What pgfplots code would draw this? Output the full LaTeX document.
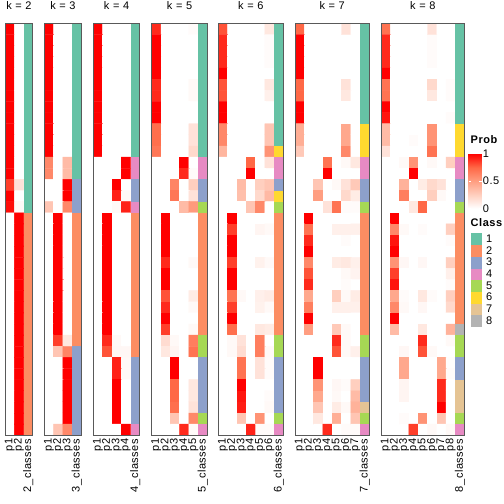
\documentclass[border=0pt]{standalone}
\usepackage{pgfplots}
\pgfplotsset{compat=1.18}
\usepackage{fontspec}
\setmainfont{Liberation Sans}[LetterSpace=5]
\definecolor{c1}{HTML}{66C2A5}
\definecolor{c2}{HTML}{FC8D62}
\definecolor{c3}{HTML}{8DA0CB}
\definecolor{c4}{HTML}{E78AC3}
\definecolor{c5}{HTML}{A6D854}
\definecolor{c6}{HTML}{FFD92F}
\definecolor{c7}{HTML}{E5C494}
\definecolor{c8}{HTML}{B3B3B3}
\newcommand{\lab}{\fontsize{11}{12}\selectfont}
\newcommand{\cls}[5]{\addplot[fill=#1,draw=none,forget plot] coordinates {(#2,#4) (#3,#4) (#3,#5) (#2,#5)};}
\pgfplotsset{
 colormap={whitered}{rgb255=(255,255,255) rgb255=(255,207,191) rgb255=(255,158,129) rgb255=(255,104,70) rgb255=(255,0,0)},
 panel/.style={
  scale only axis, height=411.7pt, width=#1, anchor=south west,
  ymin=-0.5, ymax=36.5, y dir=reverse, xmin=0.5,
  axis line style={draw=black!65, line width=0.9pt},
  ytick=\empty, major tick length=0pt,
  xticklabel style={rotate=90, anchor=east, font=\lab},
  title style={at={(0.5,1)}, anchor=south, yshift=4.5pt, font=\lab},
  colormap name=whitered, point meta min=0, point meta max=1,
  axis on top,
 },
 heat/.style={matrix plot*, mesh/cols=#1, mesh/rows=37, mesh/ordering=x varies, point meta=explicit, forget plot},
}
\begin{document}
\begin{tikzpicture}
\useasboundingbox (0,0) rectangle (504pt,504pt);
% ---------------- k = 2
\begin{axis}[panel=27.9pt, at={(5pt,68.7pt)}, xmax=3.5, xtick={1,2,3}, xticklabels={p1,p2,2\_classes}, title={k = 2}]
\addplot[heat=2] table[header=false, row sep=\\, empty line=none, meta index=0, x expr={\coordindex-2*floor((\coordindex+0.5)/2)+1}, y expr={floor((\coordindex+0.5)/2)}] {
1\\0\\
1\\0\\
1\\0\\
1\\0\\
1\\0\\
1\\0\\
1\\0\\
1\\0\\
1\\0\\
1\\0\\
1\\0\\
1\\0\\
1\\0\\
1\\0\\
0.85\\0.15\\
1\\0\\
0.97\\0.03\\
0\\1\\
0\\1\\
0\\1\\
0\\1\\
0\\1\\
0\\1\\
0\\1\\
0\\1\\
0\\1\\
0\\1\\
0\\1\\
0\\1\\
0\\1\\
0\\1\\
0\\1\\
0\\1\\
0\\1\\
0\\1\\
0\\1\\
0\\1\\
};
\cls{c1}{2.5}{3.5}{-0.5}{16.5}
\cls{c2}{2.5}{3.5}{16.5}{36.5}
\end{axis}
% ---------------- k = 3
\begin{axis}[panel=37.2pt, at={(44.3pt,68.7pt)}, xmax=4.5, xtick={1,2,3,4}, xticklabels={p1,p2,p3,3\_classes}, title={k = 3}]
\addplot[heat=3] table[header=false, row sep=\\, empty line=none, meta index=0, x expr={\coordindex-3*floor((\coordindex+0.5)/3)+1}, y expr={floor((\coordindex+0.5)/3)}] {
1\\0\\0\\
1\\0\\0\\
1\\0\\0\\
1\\0\\0\\
1\\0\\0\\
1\\0\\0\\
1\\0\\0\\
1\\0\\0\\
1\\0\\0\\
1\\0\\0\\
1\\0\\0\\
1\\0\\0\\
0.6\\0\\0.35\\
0.6\\0\\0.35\\
0\\0\\1\\
0\\0\\1\\
0.3\\0\\0.6\\
0\\1\\0\\
0\\1\\0\\
0\\1\\0\\
0\\1\\0\\
0\\1\\0\\
0\\1\\0\\
0\\1\\0\\
0\\1\\0\\
0\\1\\0\\
0\\1\\0\\
0\\1\\0\\
0\\0.85\\0.12\\
0\\0.3\\0.62\\
0\\0\\1\\
0\\0\\1\\
0\\0\\1\\
0\\0\\1\\
0\\0\\1\\
0\\0\\1\\
0\\0.3\\0.6\\
};
\cls{c1}{3.5}{4.5}{-0.5}{13.5}
\cls{c3}{3.5}{4.5}{13.5}{16.5}
\cls{c2}{3.5}{4.5}{16.5}{28.5}
\cls{c3}{3.5}{4.5}{28.5}{36.5}
\end{axis}
% ---------------- k = 4
\begin{axis}[panel=46.5pt, at={(93.3pt,68.7pt)}, xmax=5.5, xtick={1,...,5}, xticklabels={p1,p2,p3,p4,4\_classes}, title={k = 4}]
\addplot[heat=4] table[header=false, row sep=\\, empty line=none, meta index=0, x expr={\coordindex-4*floor((\coordindex+0.5)/4)+1}, y expr={floor((\coordindex+0.5)/4)}] {
1\\0\\0\\0\\
1\\0\\0\\0\\
1\\0\\0\\0\\
1\\0\\0\\0\\
1\\0\\0\\0\\
1\\0\\0\\0\\
1\\0\\0\\0\\
1\\0\\0\\0\\
1\\0\\0\\0\\
1\\0\\0\\0\\
1\\0\\0\\0\\
1\\0\\0\\0\\
0\\0\\0\\1\\
0\\0\\0\\1\\
0\\0\\1\\0\\
0\\0\\0.92\\0.03\\
0\\0\\0.03\\0.92\\
0\\1\\0\\0\\
0\\1\\0\\0\\
0\\1\\0\\0\\
0\\1\\0\\0\\
0\\1\\0\\0\\
0\\1\\0\\0\\
0\\1\\0\\0\\
0\\1\\0\\0\\
0\\1\\0\\0\\
0\\1\\0\\0\\
0\\1\\0\\0\\
0\\0.9\\0.03\\0\\
0\\0.8\\0.04\\0.04\\
0\\0\\0.92\\0.03\\
0\\0\\0.92\\0.03\\
0\\0\\1\\0\\
0\\0\\1\\0\\
0\\0\\1\\0\\
0\\0\\1\\0\\
0\\0\\0\\1\\
};
\cls{c1}{4.5}{5.5}{-0.5}{11.5}
\cls{c4}{4.5}{5.5}{11.5}{13.5}
\cls{c3}{4.5}{5.5}{13.5}{15.5}
\cls{c4}{4.5}{5.5}{15.5}{16.5}
\cls{c2}{4.5}{5.5}{16.5}{29.5}
\cls{c3}{4.5}{5.5}{29.5}{35.5}
\cls{c4}{4.5}{5.5}{35.5}{36.5}
\end{axis}
% ---------------- k = 5
\begin{axis}[panel=55.8pt, at={(151.7pt,68.7pt)}, xmax=6.5, xtick={1,...,6}, xticklabels={p1,p2,p3,p4,p5,5\_classes}, title={k = 5}]
\addplot[heat=5] table[header=false, row sep=\\, empty line=none, meta index=0, x expr={\coordindex-5*floor((\coordindex+0.5)/5)+1}, y expr={floor((\coordindex+0.5)/5)}] {
0.9\\0\\0\\0\\0.02\\
1\\0\\0\\0\\0\\
1\\0\\0\\0\\0\\
1\\0\\0\\0\\0\\
1\\0\\0\\0\\0\\
0.9\\0\\0\\0\\0.03\\
0.9\\0\\0\\0\\0.03\\
1\\0\\0\\0\\0\\
1\\0\\0\\0\\0\\
0.72\\0\\0\\0\\0.15\\
0.72\\0\\0\\0\\0.15\\
0.68\\0\\0\\0\\0.2\\
0\\0\\0\\1\\0\\
0\\0\\0\\0.9\\0.02\\
0\\0\\0.62\\0\\0.25\\
0\\0\\0.68\\0\\0.15\\
0\\0\\0\\0.35\\0.52\\
0\\1\\0\\0\\0\\
0\\1\\0\\0\\0\\
0\\1\\0\\0\\0\\
0\\1\\0\\0\\0\\
0\\0.9\\0\\0\\0.03\\
0\\1\\0\\0\\0\\
0\\1\\0\\0\\0\\
0\\0.8\\0\\0\\0.1\\
0\\0.9\\0\\0\\0.03\\
0\\1\\0\\0\\0\\
0\\0.85\\0\\0\\0.03\\
0\\0.18\\0.03\\0\\0.65\\
0\\0.12\\0.05\\0\\0.7\\
0\\0\\1\\0\\0\\
0\\0\\1\\0\\0\\
0\\0\\0.75\\0\\0.12\\
0\\0\\0.75\\0\\0.12\\
0\\0\\0.72\\0\\0.15\\
0\\0\\0.3\\0\\0.6\\
0\\0\\0\\0.9\\0.02\\
};
\cls{c1}{5.5}{6.5}{-0.5}{11.5}
\cls{c4}{5.5}{6.5}{11.5}{13.5}
\cls{c3}{5.5}{6.5}{13.5}{15.5}
\cls{c5}{5.5}{6.5}{15.5}{16.5}
\cls{c2}{5.5}{6.5}{16.5}{27.5}
\cls{c5}{5.5}{6.5}{27.5}{29.5}
\cls{c3}{5.5}{6.5}{29.5}{34.5}
\cls{c5}{5.5}{6.5}{34.5}{35.5}
\cls{c4}{5.5}{6.5}{35.5}{36.5}
\end{axis}
% ---------------- k = 6
\begin{axis}[panel=65.1pt, at={(218.3pt,68.7pt)}, xmax=7.5, xtick={1,...,7}, xticklabels={p1,p2,p3,p4,p5,p6,6\_classes}, title={k = 6}]
\addplot[heat=6] table[header=false, row sep=\\, empty line=none, meta index=0, x expr={\coordindex-6*floor((\coordindex+0.5)/6)+1}, y expr={floor((\coordindex+0.5)/6)}] {
0.8\\0\\0\\0\\0\\0.12\\
0.9\\0\\0\\0\\0\\0.02\\
0.9\\0\\0\\0\\0\\0.02\\
0.9\\0\\0\\0\\0\\0.02\\
1\\0\\0\\0\\0\\0\\
0.8\\0\\0\\0\\0\\0.12\\
0.8\\0\\0\\0\\0\\0.08\\
1\\0\\0\\0\\0\\0\\
1\\0\\0\\0\\0\\0\\
0.6\\0\\0\\0\\0\\0.3\\
0.6\\0\\0\\0\\0\\0.3\\
0.38\\0\\0\\0\\0\\0.55\\
0\\0\\0\\0.75\\0\\0.15\\
0\\0\\0\\1\\0\\0\\
0\\0\\0.35\\0\\0.25\\0.3\\
0\\0\\0.33\\0\\0.2\\0.36\\
0\\0\\0\\0.3\\0.6\\0\\
0\\1\\0\\0\\0\\0\\
0\\0.85\\0\\0\\0.05\\0.03\\
0\\1\\0\\0\\0\\0\\
0\\1\\0\\0\\0\\0\\
0\\0.85\\0\\0\\0.07\\0.03\\
0\\1\\0\\0\\0\\0\\
0\\1\\0\\0\\0\\0\\
0\\0.7\\0.03\\0\\0.08\\0.1\\
0\\0.85\\0\\0\\0.07\\0.03\\
0\\1\\0\\0\\0\\0\\
0\\0.72\\0\\0\\0.12\\0.1\\
0\\0.03\\0.15\\0\\0.65\\0\\
0\\0.03\\0.18\\0\\0.65\\0.03\\
0\\0\\0.7\\0\\0.15\\0.02\\
0\\0\\0.7\\0\\0.15\\0.02\\
0\\0\\1\\0\\0\\0\\
0\\0\\0.95\\0\\0\\0.02\\
0\\0\\0.93\\0\\0\\0.03\\
0\\0\\0.3\\0\\0.55\\0\\
0\\0\\0\\0.92\\0.02\\0.02\\
};
\cls{c1}{6.5}{7.5}{-0.5}{10.5}
\cls{c6}{6.5}{7.5}{10.5}{11.5}
\cls{c4}{6.5}{7.5}{11.5}{13.5}
\cls{c3}{6.5}{7.5}{13.5}{14.5}
\cls{c6}{6.5}{7.5}{14.5}{15.5}
\cls{c5}{6.5}{7.5}{15.5}{16.5}
\cls{c2}{6.5}{7.5}{16.5}{27.5}
\cls{c5}{6.5}{7.5}{27.5}{29.5}
\cls{c3}{6.5}{7.5}{29.5}{34.5}
\cls{c5}{6.5}{7.5}{34.5}{35.5}
\cls{c4}{6.5}{7.5}{35.5}{36.5}
\end{axis}
% ---------------- k = 7
\begin{axis}[panel=74.4pt, at={(295pt,68.7pt)}, xmax=8.5, xtick={1,...,8}, xticklabels={p1,p2,p3,p4,p5,p6,p7,7\_classes}, title={k = 7}]
\addplot[heat=7] table[header=false, row sep=\\, empty line=none, meta index=0, x expr={\coordindex-7*floor((\coordindex+0.5)/7)+1}, y expr={floor((\coordindex+0.5)/7)}] {
0.75\\0\\0\\0\\0\\0.15\\0\\
1\\0\\0\\0\\0\\0\\0\\
1\\0\\0\\0\\0\\0\\0\\
1\\0\\0\\0\\0\\0\\0\\
1\\0\\0\\0\\0\\0\\0\\
0.75\\0\\0\\0\\0\\0.15\\0\\
0.75\\0\\0\\0\\0\\0.12\\0\\
1\\0\\0\\0\\0\\0\\0\\
1\\0\\0\\0\\0\\0\\0\\
0.42\\0\\0\\0\\0\\0.45\\0\\
0.42\\0\\0\\0\\0\\0.45\\0\\
0.28\\0\\0\\0\\0\\0.6\\0\\
0\\0\\0\\0.7\\0\\0.03\\0.12\\
0\\0\\0\\1\\0\\0\\0\\
0\\0\\0.3\\0\\0.03\\0.15\\0.28\\
0\\0\\0.5\\0\\0\\0.2\\0.1\\
0\\0\\0\\0.15\\0.7\\0.02\\0.02\\
0\\1\\0\\0\\0\\0\\0\\
0\\0.7\\0\\0\\0.08\\0.08\\0.08\\
0\\0.9\\0\\0\\0\\0.02\\0\\
0\\1\\0\\0\\0\\0\\0\\
0\\0.6\\0\\0\\0.1\\0.12\\0.08\\
0\\0.8\\0\\0\\0\\0.03\\0.06\\
0\\0.9\\0\\0\\0\\0.02\\0\\
0\\0.45\\0\\0\\0.25\\0.03\\0.1\\
0\\0.65\\0\\0\\0.08\\0.08\\0.08\\
0\\1\\0\\0\\0\\0\\0\\
0\\0.5\\0\\0\\0.28\\0.03\\0\\
0\\0\\0\\0\\0.9\\0.03\\0\\
0\\0\\0\\0\\0.8\\0.03\\0.08\\
0\\0\\1\\0\\0\\0\\0\\
0\\0\\1\\0\\0\\0\\0\\
0\\0\\0.55\\0\\0.04\\0.02\\0.25\\
0\\0\\0.45\\0\\0.03\\0\\0.35\\
0\\0\\0.3\\0\\0.1\\0.03\\0.4\\
0\\0\\0.12\\0\\0.42\\0\\0.3\\
0\\0\\0\\0.9\\0\\0.02\\0.02\\
};
\cls{c1}{7.5}{8.5}{-0.5}{8.5}
\cls{c6}{7.5}{8.5}{8.5}{11.5}
\cls{c4}{7.5}{8.5}{11.5}{13.5}
\cls{c3}{7.5}{8.5}{13.5}{15.5}
\cls{c5}{7.5}{8.5}{15.5}{16.5}
\cls{c2}{7.5}{8.5}{16.5}{27.5}
\cls{c5}{7.5}{8.5}{27.5}{29.5}
\cls{c3}{7.5}{8.5}{29.5}{33.5}
\cls{c7}{7.5}{8.5}{33.5}{34.5}
\cls{c5}{7.5}{8.5}{34.5}{35.5}
\cls{c4}{7.5}{8.5}{35.5}{36.5}
\end{axis}
% ---------------- k = 8
\begin{axis}[panel=83.7pt, at={(381pt,68.7pt)}, xmax=9.5, xtick={1,...,9}, xticklabels={p1,p2,p3,p4,p5,p6,p7,p8,8\_classes}, title={k = 8},
 colorbar,
 colorbar style={at={(parent axis.north east)}, anchor=north west, yshift=-130pt, xshift=-4.5pt,
   width=13pt, height=55pt, ytick={0,0.5,1}, axis line style={draw=none},
   major tick length=2.5pt, tick align=inside, ytick pos=both, ytick style={draw=white, line width=0.6pt},
   yticklabel pos=right,
   yticklabel style={font=\lab, inner sep=1pt, /pgf/number format/assume math mode=true}},
 legend image code/.code={\fill[#1] (0pt,-5.85pt) rectangle (11.5pt,5.85pt);},
 legend cell align=left,
 legend style={at={(1.0693,0.4903)}, anchor=north west, draw=none, fill=none, inner sep=0pt, outer sep=0pt, row sep=0pt, font=\lab,
   nodes={inner sep=0pt}, /tikz/every odd column/.append style={column sep=4pt}},
]
\addplot[heat=8] table[header=false, row sep=\\, empty line=none, meta index=0, x expr={\coordindex-8*floor((\coordindex+0.5)/8)+1}, y expr={floor((\coordindex+0.5)/8)}] {
0.7\\0\\0\\0\\0\\0.15\\0\\0\\
0.9\\0\\0\\0\\0\\0.02\\0\\0\\
0.9\\0\\0\\0\\0\\0.02\\0\\0\\
0.9\\0\\0\\0\\0\\0.02\\0\\0\\
1\\0\\0\\0\\0\\0\\0\\0\\
0.7\\0\\0\\0\\0\\0.2\\0\\0.02\\
0.7\\0\\0\\0\\0\\0.12\\0\\0.02\\
1\\0\\0\\0\\0\\0\\0\\0\\
0.95\\0\\0\\0\\0\\0\\0\\0.02\\
0.35\\0\\0\\0\\0\\0.55\\0\\0\\
0.35\\0\\0\\0.02\\0\\0.55\\0\\0\\
0.15\\0\\0\\0\\0\\0.7\\0\\0\\
0\\0\\0.03\\0.55\\0\\0.03\\0\\0.25\\
0\\0\\0\\1\\0\\0\\0\\0\\
0\\0\\0.4\\0\\0.1\\0.2\\0.15\\0\\
0\\0\\0.65\\0\\0\\0.25\\0.03\\0\\
0\\0\\0\\0.12\\0.75\\0\\0\\0\\
0\\1\\0\\0\\0\\0\\0\\0\\
0\\0.6\\0.03\\0\\0.02\\0\\0\\0.25\\
0\\0.95\\0\\0\\0\\0\\0\\0.02\\
0\\1\\0\\0\\0\\0\\0\\0\\
0\\0.55\\0.04\\0\\0.04\\0\\0\\0.25\\
0\\0.85\\0\\0\\0\\0\\0\\0.08\\
0\\0.95\\0\\0\\0\\0\\0\\0.02\\
0\\0.45\\0.02\\0\\0.12\\0.02\\0\\0.25\\
0\\0.6\\0.03\\0\\0.04\\0\\0\\0.2\\
0\\1\\0\\0\\0\\0\\0\\0\\
0\\0.35\\0\\0\\0.12\\0\\0\\0.4\\
0\\0\\0\\0\\0.9\\0\\0\\0.03\\
0\\0\\0.04\\0\\0.8\\0.03\\0\\0\\
0\\0\\0.45\\0\\0\\0\\0.45\\0.01\\
0\\0\\0.45\\0\\0\\0\\0.45\\0.02\\
0\\0\\0.05\\0\\0\\0\\0.9\\0\\
0\\0\\0.05\\0\\0\\0\\0.9\\0\\
0\\0\\0\\0\\0\\0\\1\\0\\
0\\0\\0.02\\0\\0.55\\0\\0.3\\0\\
0\\0\\0\\0.85\\0\\0.03\\0\\0.03\\
};
\cls{c1}{8.5}{9.5}{-0.5}{8.5}
\cls{c6}{8.5}{9.5}{8.5}{11.5}
\cls{c4}{8.5}{9.5}{11.5}{13.5}
\cls{c3}{8.5}{9.5}{13.5}{15.5}
\cls{c5}{8.5}{9.5}{15.5}{16.5}
\cls{c2}{8.5}{9.5}{16.5}{26.5}
\cls{c8}{8.5}{9.5}{26.5}{27.5}
\cls{c5}{8.5}{9.5}{27.5}{29.5}
\cls{c3}{8.5}{9.5}{29.5}{31.5}
\cls{c7}{8.5}{9.5}{31.5}{34.5}
\cls{c5}{8.5}{9.5}{34.5}{35.5}
\cls{c4}{8.5}{9.5}{35.5}{36.5}
\addlegendimage{fill=c1,draw=none}\addlegendentry{1}
\addlegendimage{fill=c2,draw=none}\addlegendentry{2}
\addlegendimage{fill=c3,draw=none}\addlegendentry{3}
\addlegendimage{fill=c4,draw=none}\addlegendentry{4}
\addlegendimage{fill=c5,draw=none}\addlegendentry{5}
\addlegendimage{fill=c6,draw=none}\addlegendentry{6}
\addlegendimage{fill=c7,draw=none}\addlegendentry{7}
\addlegendimage{fill=c8,draw=none}\addlegendentry{8}
\end{axis}
\node[anchor=base west, font=\bfseries\lab, inner sep=0pt] at (470.5pt,360.7pt) {Prob};
\node[anchor=base west, font=\bfseries\lab, inner sep=0pt] at (470.5pt,277.3pt) {Class};
\end{tikzpicture}
\end{document}
